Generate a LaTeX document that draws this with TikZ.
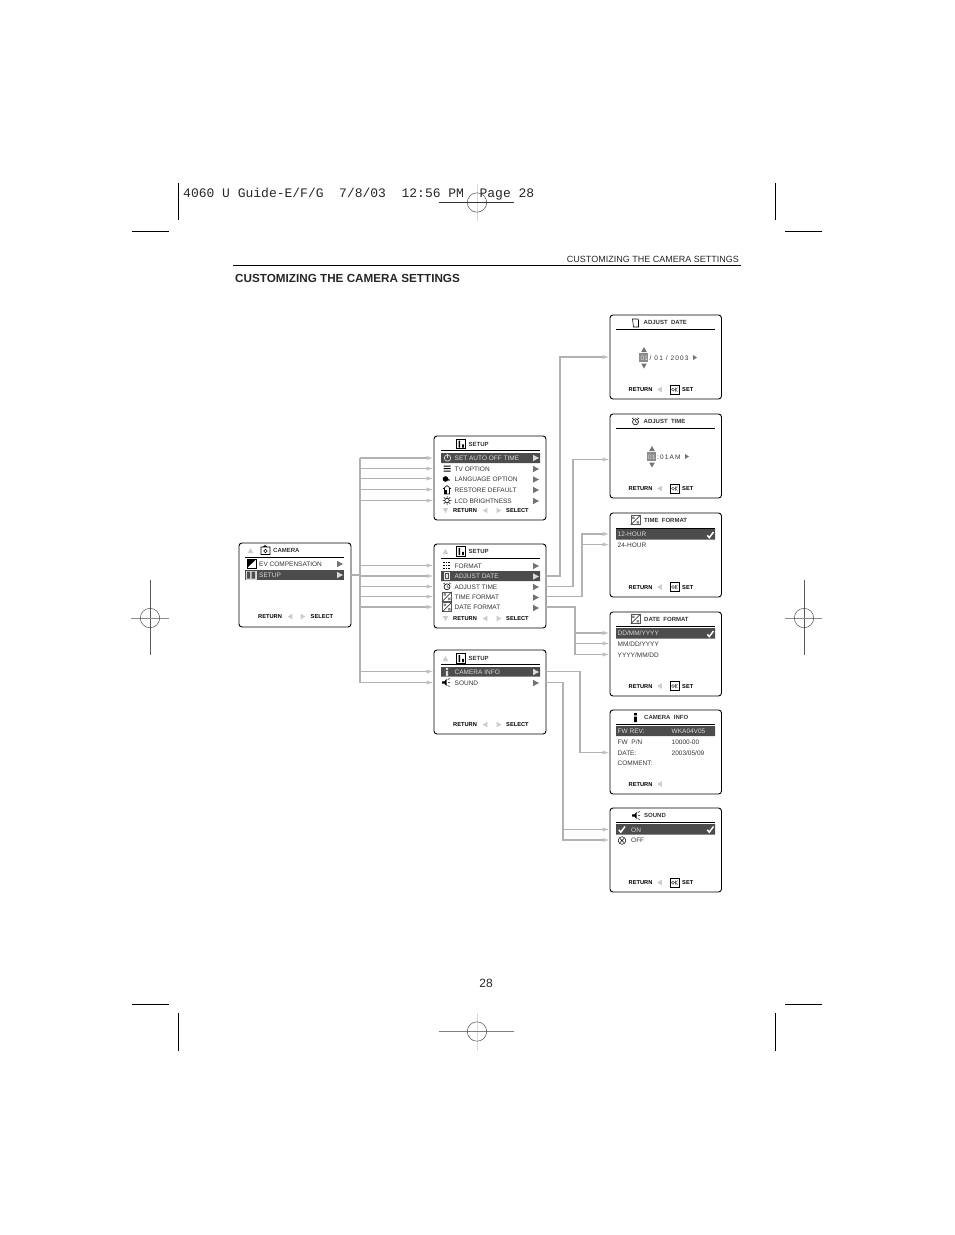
\documentclass[tikz,border=0pt]{standalone}
\usepackage{fontspec}
\usetikzlibrary{arrows.meta}
\setmainfont{Liberation Sans}
\newfontfamily\slugfont{Liberation Mono}
\newfontfamily\widefont[LetterSpace=18]{Liberation Sans}
\definecolor{wiregray}{gray}{0.7}
\definecolor{tipgray}{gray}{0.76}
\definecolor{bargray}{gray}{0.3}
\definecolor{markgray}{gray}{0.45}
\definecolor{navgray}{gray}{0.8}
\definecolor{barlabel}{gray}{0.85}
\tikzset{
  screen/.style={draw,rounded corners=3pt,line width=.9pt,anchor=north west,minimum width=112pt,minimum height=84pt,inner sep=0pt,outer sep=0pt},
  row/.style={anchor=west,inner sep=0pt,text height=5.6pt,text depth=0pt,font=\fontsize{6.5}{7}\selectfont,text=black!80},
  onbar/.style={row,text=barlabel},
  head/.style={row,text height=4.6pt,font=\bfseries\fontsize{6}{7}\selectfont},
  nav/.style={row,text height=4.6pt,font=\bfseries\fontsize{5.7}{7}\selectfont,text=black},
  wire/.style={line width=1.6pt,color=wiregray},
  feed/.style={wire,-{Latex[length=7.5pt,width=4.5pt,color=tipgray]}},
  rtri/.pic={\fill[#1] (-3,-3.2) -- (3,0) -- (-3,3.2) -- cycle;},
  utri/.pic={\fill[#1] (-2.8,2.5) -- (0,-2.5) -- (2.8,2.5) -- cycle;},
  dtri/.pic={\fill[#1] (-2.8,-2.5) -- (0,2.5) -- (2.8,-2.5) -- cycle;},
  nleft/.pic={\fill[navgray] (2.3,-2.8) -- (-2.3,0) -- (2.3,2.8) -- cycle;},
  nright/.pic={\fill[navgray] (-2.3,-2.8) -- (2.3,0) -- (-2.3,2.8) -- cycle;},
  nsmall/.pic={\fill[markgray] (-2,-2.5) -- (2,0) -- (-2,2.5) -- cycle;},
  setupicon/.pic={\draw[line width=.7pt] (-4.7,-4.7) rectangle (4.7,4.7);
    \fill (-2.3,-3.5) rectangle (-.8,3.5) (1,.3) rectangle (2.8,3.5);},
  okbox/.pic={\draw[line width=.6pt] (-4.3,-4.3) rectangle (4.3,4.3);
    \draw[line width=.7pt,black!60] (-1.5,0) circle (1.5) (1,-2) -- (1,2) (3,-2) -- (1,0) -- (3,2);},
  fmticon/.pic={\draw[line width=.6pt,black!65] (-4.7,-4.7) rectangle (4.7,4.7);
    \draw[line width=.7pt,black!75] (-4.7,4.7) -- (4.7,-4.7);
    \fill[black!45] (-3.5,-3.5) rectangle (-1,-1) (1,1) rectangle (3.5,3.5);},
  clockicon/.pic={\draw[line width=.6pt] (0,.3) circle (3);
    \draw[line width=.5pt] (0,-1.5) -- (0,.3) -- (1.5,1) (-2,-3.8) -- (-3.5,-2.5) (2,-3.8) -- (3.5,-2.5);},
  dateicon/.pic={\draw[line width=.6pt] (-3,-4) -- (2,-4) -- (3,-3) -- (3,4) -- (-2,4) -- cycle;},
  speaker/.pic={\fill (-4,-1.2) -- (-1.5,-1.2) -- (.5,-3.4) -- (.5,3.4) -- (-1.5,1.2) -- (-4,1.2) -- cycle;
    \draw[line width=.5pt] (1.7,-3) -- (3.7,-4) (2,0) -- (4,0) (1.7,3) -- (3.7,4);},
  infoicon/.pic={\fill (-1.3,-4.5) rectangle (1.3,-2.2) (-1.3,-1) rectangle (1.3,4.5);},
  tickmark/.pic={\draw[#1,line width=1.5pt] (-3.2,.3) -- (-1.2,2.6) -- (3,-3);},
  cross/.pic={\draw[line width=.5pt] (0,0) circle (3.8) (-2,-2) -- (2,2) (-2,2) -- (2,-2);},
  regmark/.pic={\draw[line width=.5pt,black!70] (0,0) circle (9.7);},
}
\newcommand{\navbar}[6]{% prefix, y, x of RETURN, x of left tri, x of right tri, x of last word
  \node[nav] (#1ret) at (#3,#2) {RETURN};
  \pic at (#4,#2) {nleft};
  \pic at (#5,#2) {nright};
  \node[nav] (#1sel) at (#6,#2) {SELECT};}
\newcommand{\setbar}[2]{% prefix, y
  \node[nav] (#1ret) at (628.5,#2) {RETURN};
  \pic at (659.5,#2) {nleft};
  \pic at (674.5,#2) {okbox};
  \node[nav] (#1set) at (682,#2) {SET};}
\begin{document}
\begin{tikzpicture}[x=1pt,y=-1pt]
\useasboundingbox (0,0) rectangle (954,1235);

% printer marks
\node[anchor=west,inner sep=0pt,font=\slugfont\fontsize{13}{15}\selectfont,text=black!85] (slug) at (183,194) {4060 U Guide-E/F/G\ \ 7/8/03\ \ 12:56 PM\ \ Page 28};
\draw[line width=.8pt] (178,183) -- (178,220) (775,183) -- (775,220);
\draw[line width=.8pt] (178,1013) -- (178,1051) (775,1013) -- (775,1051);
\draw[line width=.7pt] (132,231) -- (169,231) (785,231) -- (822,231);
\draw[line width=.7pt] (132,1004) -- (169,1004) (785,1004) -- (822,1004);
\draw[line width=.8pt,black!15] (477,184) -- (477,221) (477,1013) -- (477,1051);
\draw[line width=.6pt,black!80] (439,202.5) -- (514,202.5);
\draw[line width=.6pt,black!50] (439,1031.5) -- (514,1031.5);
\pic at (477,202.5) {regmark};
\pic at (477,1031.5) {regmark};
\draw[line width=.7pt,black!65] (150,580) -- (150,655) (804,580) -- (804,655);
\draw[line width=.5pt,black!45] (131,618) -- (169,618) (785,618) -- (822,618);
\pic at (150,618) {regmark};
\pic at (804,618) {regmark};

% page head
\draw[line width=.7pt] (233,265.5) -- (741,265.5);
\node[anchor=east,inner sep=0pt,font=\fontsize{9}{10}\selectfont,text=black!85] (runhead) at (739,259) {CUSTOMIZING THE CAMERA SETTINGS};
\node[anchor=west,inner sep=0pt,font=\bfseries\fontsize{11.7}{13}\selectfont,text=black!85] (title) at (235,278) {CUSTOMIZING THE CAMERA SETTINGS};
\node[inner sep=0pt,font=\fontsize{12}{14}\selectfont,text=black!85] (pageno) at (486,983) {28};

% screens
\node[screen] (camera) at (239,543) {};
\node[screen] (setupa) at (434,436) {};
\node[screen] (setupb) at (434,544) {};
\node[screen] (setupc) at (434,650) {};
\node[screen,minimum width=111.5pt] (adjdate) at (610,315) {};
\node[screen,minimum width=111.5pt] (adjtime) at (610,414) {};
\node[screen,minimum width=111.5pt] (timefmt) at (610,513) {};
\node[screen,minimum width=111.5pt] (datefmt) at (610,612) {};
\node[screen,minimum width=111.5pt] (caminfo) at (610,710) {};
\node[screen,minimum width=111.5pt] (soundscr) at (610,808) {};

% head rules and selection bars
\draw[line width=.8pt] (245,557.5) -- (344,557.5) (441,450.5) -- (540,450.5) (441,558.5) -- (540,558.5) (441,664.5) -- (540,664.5);
\draw[line width=.8pt] (616,329.5) -- (715,329.5) (616,428.5) -- (715,428.5) (616,528) -- (715,528) (616,626.5) -- (715,626.5) (616,724.5) -- (715,724.5) (616,822.5) -- (715,822.5);
\fill[bargray] (245,570) rectangle (344,580);
\fill[bargray] (441,453) rectangle (540,463) (441,571) rectangle (540,581) (441,667) rectangle (540,676.5);
\fill[bargray] (616,529) rectangle (715,539.5) (616,628) rectangle (715,638.5) (616,726) rectangle (715,736) (616,824) rectangle (715,834.5);

% camera screen
\pic at (250.5,550.5) {utri=navgray};
\draw[line width=.7pt] (261,547) rectangle (270,554.5) (263,547) -- (265,545.5) -- (267,547);
\draw[line width=.6pt] (265.5,551) circle (1.8);
\node[head] (camhead) at (273,550.5) {CAMERA};
\draw[line width=.5pt] (247,559) rectangle (256.5,568);
\fill (247,568) -- (247,559) -- (256.5,559) -- cycle;
\node[row] (cev) at (259,563.5) {EV COMPENSATION};
\pic at (340,564) {rtri=markgray};
\fill[barlabel] (245.5,570.5) rectangle (256.5,579.5);
\fill[bargray] (247,571.5) rectangle (250,578.5) (251.5,571.5) rectangle (255,578.5);
\node[onbar] (csetup) at (259,575) {SETUP};
\pic at (340,575) {rtri=barlabel};
\navbar{cam}{616.5}{258}{290}{303}{310.5}

% setup one
\pic at (461,444) {setupicon};
\node[head] (shead) at (468.5,444) {SETUP};
\draw[barlabel,line width=.7pt] (447.5,458) circle (3.2) (447.5,453.8) -- (447.5,458);
\node[onbar] (sauto) at (454.5,458) {SET AUTO OFF TIME};
\pic at (536,458) {rtri=barlabel};
\fill (443.5,465.5) rectangle (450.5,466.5) (443.5,468) rectangle (450.5,469) (443.5,470.5) rectangle (450.5,471.5);
\node[row] (stv) at (454.5,468.5) {TV OPTION};
\pic at (536,469) {rtri=markgray};
\fill (445.5,479) circle (2.8) (449,480) circle (.8);
\node[row] (slang) at (454.5,478.5) {LANGUAGE OPTION};
\pic at (536,479.5) {rtri=markgray};
\draw[line width=.6pt] (443,489) -- (447,485.5) -- (451,489) (444.5,488) -- (444.5,494) -- (449.5,494) -- (449.5,488);
\fill (444.5,489.5) rectangle (447,494);
\node[row] (srest) at (454.5,489.5) {RESTORE DEFAULT};
\pic at (536,490) {rtri=markgray};
\draw[line width=.5pt] (447,500.5) circle (2.2) (442.5,500.5) -- (444.5,500.5) (449.5,500.5) -- (451.5,500.5) (447,496) -- (447,498) (447,503) -- (447,505) (443.8,497.3) -- (445.4,498.9) (448.6,502.1) -- (450.2,503.7) (443.8,503.7) -- (445.4,502.1) (448.6,498.9) -- (450.2,497.3);
\node[row] (slcd) at (454.5,500.5) {LCD BRIGHTNESS};
\pic at (536,501) {rtri=markgray};
\pic at (445.5,510.5) {dtri=navgray};
\navbar{sa}{510.5}{453}{485}{499}{506}

% setup two
\pic at (445.5,551.5) {utri=navgray};
\pic at (461,551.5) {setupicon};
\node[head] (bhead) at (468.5,551.5) {SETUP};
\foreach \dx in {443.2,445.7,448.2}
  \foreach \dy in {561.5,564.5,567.5}
    \fill (\dx,\dy) rectangle +(1.7,1.7);
\node[row] (bfmt) at (454.5,565.5) {FORMAT};
\pic at (536,566) {rtri=markgray};
\fill[barlabel!60] (443.5,572) rectangle (450,580);
\draw[bargray,line width=.6pt] (445,573.5) rectangle (448.5,578.5);
\node[onbar] (bdate) at (454.5,576) {ADJUST DATE};
\pic at (536,576.5) {rtri=barlabel};
\pic at (447,586.5) {clockicon};
\node[row] (btime) at (454.5,586.5) {ADJUST TIME};
\pic at (536,587) {rtri=markgray};
\pic at (447,596.5) {fmticon};
\node[row] (btf) at (454.5,596.5) {TIME FORMAT};
\pic at (536,597.5) {rtri=markgray};
\pic at (447,607) {fmticon};
\node[row] (bdf) at (454.5,607) {DATE FORMAT};
\pic at (536,608) {rtri=markgray};
\pic at (445.5,618.5) {dtri=navgray};
\navbar{sb}{618.5}{453}{485}{499}{506}

% setup three
\pic at (445.5,658.5) {utri=navgray};
\pic at (461,658.5) {setupicon};
\node[head] (chead) at (468.5,658.5) {SETUP};
\fill[barlabel] (445.8,667.8) rectangle (448.2,670) (445.8,671) rectangle (448.2,676);
\node[onbar] (cinfo) at (454.5,671.5) {CAMERA INFO};
\pic at (536,672) {rtri=barlabel};
\pic at (446,682.5) {speaker};
\node[row] (csound) at (454.5,682.5) {SOUND};
\pic at (536,683) {rtri=markgray};
\navbar{sc}{724.5}{453}{485}{499}{506}

% adjust date
\pic at (635.5,323) {dateicon};
\node[head] (dhead) at (643.5,322.5) {ADJUST\ \ DATE};
\pic at (644,349.5) {utri=markgray};
\fill[black!45] (639.3,353.3) rectangle (648.3,362);
\node[row,text=barlabel] (dday) at (640.5,357.5) {01};
\node[row,font=\widefont\fontsize{6.5}{7}\selectfont] (dval) at (649.5,357.5) {/\ 01\ /\ 2003};
\pic at (695,357.5) {nsmall};
\pic at (644,366) {dtri=markgray};
\setbar{d}{389.5}

% adjust time
\pic at (635.5,421.5) {clockicon};
\node[head] (thead) at (643.5,421.5) {ADJUST\ \ TIME};
\pic at (652,448.5) {utri=markgray};
\fill[black!45] (647,452.3) rectangle (656,461);
\node[row,text=barlabel] (thour) at (648,456.5) {01};
\node[row,font=\widefont\fontsize{6.5}{7}\selectfont] (tval) at (657,456.5) {:\,01\,AM};
\pic at (687,456.5) {nsmall};
\pic at (652,465) {dtri=markgray};
\coordinate (timein) at (610,459.5);
\setbar{t}{488.5}

% time format
\pic at (635.5,520) {fmticon};
\node[head] (tfhead) at (644,520) {TIME\ \ FORMAT};
\node[onbar] (h12) at (617.5,534) {12-HOUR};
\pic at (710.5,535) {tickmark=white};
\node[row] (h24) at (617.5,544.5) {24-HOUR};
\setbar{tf}{587}

% date format
\pic at (635.5,619) {fmticon};
\node[head] (dfhead) at (644,619) {DATE\ \ FORMAT};
\node[onbar] (fdmy) at (617.5,633) {DD/MM/YYYY};
\pic at (710.5,634) {tickmark=white};
\node[row] (fmdy) at (617.5,643.5) {MM/DD/YYYY};
\node[row] (fymd) at (617.5,654.5) {YYYY/MM/DD};
\setbar{df}{686}

% camera info
\pic at (635.5,717.5) {infoicon};
\node[head] (ihead) at (644,717.5) {CAMERA\ \ INFO};
\node[onbar] (irev) at (617.5,731) {FW REV:};
\node[onbar] (irevval) at (671.5,731) {WKA04V05};
\node[row] (ipn) at (617.5,742) {FW\ \ P/N};
\node[row] (ipnval) at (671.5,742) {10000-00};
\node[row] (idate) at (617.5,752.5) {DATE:};
\node[row] (idateval) at (671.5,752.5) {2003/05/09};
\node[row] (icomm) at (617.5,762.5) {COMMENT:};
\node[nav] (iret) at (628.5,784) {RETURN};
\pic at (659.5,784) {nleft};

% sound
\pic at (636,815.5) {speaker};
\node[head] (nhead) at (644,815.5) {SOUND};
\pic at (622,829.5) {tickmark=white};
\node[onbar] (non) at (631,829.5) {ON};
\pic at (710.5,829.5) {tickmark=white};
\pic at (622,840.5) {cross};
\node[row] (noff) at (631,840) {OFF};
\setbar{n}{882.5}

% connectors into the setup screens
\coordinate (trunk) at (360,575);
\draw[wire] (camera.east |- csetup) -- (trunk |- csetup);
\draw[wire] (trunk |- sauto) -- (trunk |- csound);
\foreach \r in {sauto,stv,slang,srest,slcd}
  \draw[feed] (trunk |- \r) -- (setupa.west |- \r);
\foreach \r in {bfmt,bdate,btime,btf,bdf}
  \draw[feed] (trunk |- \r) -- (setupb.west |- \r);
\foreach \r in {cinfo,csound}
  \draw[feed] (trunk |- \r) -- (setupc.west |- \r);

% connectors out of the setup screens
\coordinate (busdate) at (560,0);
\coordinate (bustime) at (573,0);
\coordinate (bustf) at (582,0);
\coordinate (busdf) at (575,0);
\coordinate (businfo) at (580,0);
\coordinate (bussound) at (563,0);
\draw[feed] (setupb.east |- bdate) -| (busdate |- adjdate.west) -- (adjdate.west);
\draw[feed] (setupb.east |- btime) -| (bustime |- timein) -- (timein);
\draw[feed] (setupb.east |- btf) -| (bustf |- h12) -- (timefmt.west |- h12);
\draw[feed] (bustf |- h24) -- (timefmt.west |- h24);
\draw[feed] (setupb.east |- bdf) -| (busdf |- fymd) -- (datefmt.west |- fymd);
\draw[feed] (busdf |- fdmy) -- (datefmt.west |- fdmy);
\draw[feed] (busdf |- fmdy) -- (datefmt.west |- fmdy);
\draw[feed] (setupc.east |- cinfo) -| (businfo |- idate) -- (caminfo.west |- idate);
\draw[feed] (setupc.east |- csound) -| (bussound |- noff) -- (soundscr.west |- noff);
\draw[feed] (bussound |- non) -- (soundscr.west |- non);
\end{tikzpicture}
\end{document}
